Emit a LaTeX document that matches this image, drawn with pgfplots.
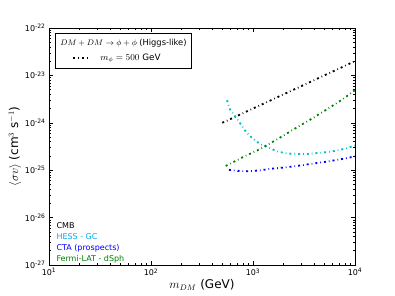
\documentclass[border=0pt]{standalone}
\usepackage{pgfplots}
\pgfplotsset{compat=1.18}
\usepackage{fontspec}
\setmainfont{DejaVu Sans}
\definecolor{mplc}{rgb}{0,0.75,0.75}
\definecolor{mplg}{rgb}{0,0.5,0}
\definecolor{mplb}{rgb}{0,0,1}
\protected\def\legtitle{\hspace{-31pt}{\fontsize{8.1}{10}\selectfont$DM+DM\to\phi+\phi$ }{\fontsize{8.3}{10}\selectfont(Higgs-like)}}
\protected\def\legmass{\hspace{9pt}$m_{\phi}=500$ GeV}
\begin{document}
\begin{tikzpicture}
\useasboundingbox (-49pt,-31pt) rectangle (346pt,265pt);
\begin{axis}[
  at={(0,0)}, anchor=south west,
  scale only axis, width=306pt, height=237pt,
  xmode=log, ymode=log,
  xmin=10, xmax=1e4, ymin=1e-27, ymax=1e-22,
  xtick={10,100,1000,10000},
  xticklabels={10\textsuperscript{1},10\textsuperscript{2},10\textsuperscript{3},10\textsuperscript{4}},
  ytick={1e-27,1e-26,1e-25,1e-24,1e-23,1e-22},
  yticklabels={10\textsuperscript{-27},10\textsuperscript{-26},10\textsuperscript{-25},10\textsuperscript{-24},10\textsuperscript{-23},10\textsuperscript{-22}},
  tick label style={font=\fontsize{8}{9}\selectfont},
  tick align=inside, xtick pos=both, ytick pos=both,
  major tick length=4pt, minor tick length=2pt,
  axis line style={line width=0.8pt},
  every tick/.style={black, line width=0.5pt},
  xlabel={$m_{DM}$ (GeV)},
  ylabel={$\langle \sigma v\rangle$ (cm$^3$ s$^{-1}$)},
  label style={font=\fontsize{12}{14}\selectfont},
  xlabel style={yshift=3pt},
  ylabel style={yshift=-3pt},
  legend style={at={(0.0196,0.979)}, anchor=north west, draw=black, line width=0.8pt,
    font=\fontsize{8.8}{10}\selectfont, inner xsep=3pt, inner ysep=4pt, row sep=3pt},
  legend cell align=left,
  legend image code/.code={\draw[#1, line width=1.8pt] (15pt,0pt) -- (30pt,0pt);},
  every axis plot/.append style={line width=1.8pt, dash pattern=on 2pt off 3pt on 0.7pt off 3pt},
]
\addlegendimage{empty legend}
\addlegendentry{\legtitle}
% CMB
\addplot[black] coordinates {(500,1e-24) (1000,2e-24) (2000,4e-24) (5000,1e-23) (10000,2e-23)};
\addlegendentry{\legmass}
% HESS - GC
\addplot[mplc] coordinates {(556,3.0e-24) (596,1.9e-24) (680,1.3e-24) (760,9.3e-25) (850,6.5e-25) (1000,4.6e-25) (1175,3.55e-25) (1450,2.95e-25) (1760,2.45e-25) (2200,2.25e-25) (2700,2.2e-25) (3400,2.2e-25) (4200,2.3e-25) (5200,2.4e-25) (6300,2.55e-25) (8000,2.85e-25) (10000,3.3e-25)};
% CTA
\addplot[mplb] coordinates {(580,1.02e-25) (700,9.7e-26) (930,9.5e-26) (1200,1.0e-25) (1480,1.07e-25) (2000,1.14e-25) (2700,1.23e-25) (3600,1.35e-25) (4900,1.48e-25) (7000,1.68e-25) (10000,1.95e-25)};
% Fermi-LAT
\addplot[mplg] coordinates {(540,1.23e-25) (800,1.9e-25) (1175,2.8e-25) (1700,4.4e-25) (2455,7.1e-25) (3600,1.15e-24) (5350,1.95e-24) (7500,3.1e-24) (10000,4.9e-24)};
\node[anchor=base west, font=\fontsize{8}{9}\selectfont, text=black] at (axis description cs:0.013,0.155) {CMB};
\node[anchor=base west, font=\fontsize{8}{9}\selectfont, text=cyan] at (axis description cs:0.013,0.108) {HESS - GC};
\node[anchor=base west, font=\fontsize{8}{9}\selectfont, text=mplb] at (axis description cs:0.013,0.062) {CTA (prospects)};
\node[anchor=base west, font=\fontsize{8}{9}\selectfont, text=mplg] at (axis description cs:0.013,0.015) {Fermi-LAT - dSph};
\end{axis}
\end{tikzpicture}
\end{document}
